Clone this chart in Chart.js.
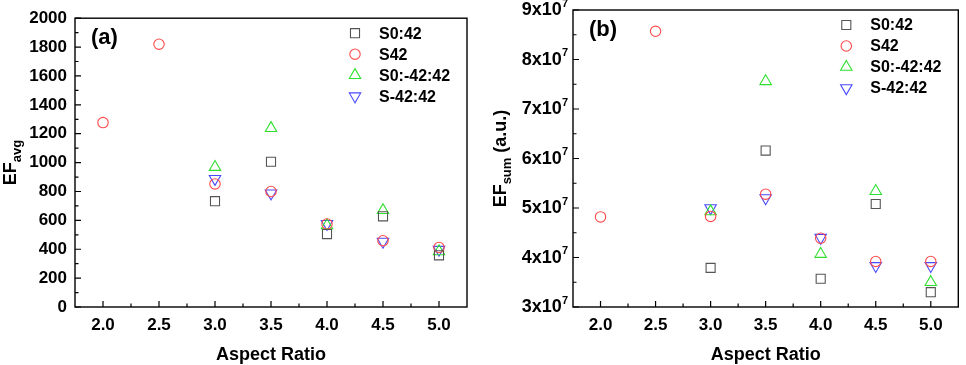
<!DOCTYPE html>
<html>
<head>
<meta charset="utf-8">
<script src="https://cdn.jsdelivr.net/npm/chart.js@4.4.1/dist/chart.umd.min.js"></script>
<style>
  body { margin: 0; background: #fff; }
  .panel { position: absolute; top: 0; width: 483px; height: 365px; }
</style>
</head>
<body>
<div class="panel" style="left:0"><canvas id="chartA" width="483" height="365"></canvas></div>
<div class="panel" style="left:483px"><canvas id="chartB" width="483" height="365"></canvas></div>
<script>
// data
const aspectRatio = [2.0, 2.5, 3.0, 3.5, 4.0, 4.5, 5.0];
const seriesNames = ['S0:42', 'S42', 'S0:-42:42', 'S-42:42'];

const efAvgS0_42     = [null, null, 733, 1006, 505, 628, 358];
const efAvgS42       = [1277, 1820, 852, 800, 575, 459, 412];
const efAvgS0m42_42  = [null, null, 969, 1238, 565, 670, 385];
const efAvgSm42_42   = [null, null, 888, 787, 576, 453, 397];

const efSumS0_42     = [null, null, 3.79e7, 6.16e7, 3.57e7, 5.08e7, 3.30e7];
const efSumS42       = [4.82e7, 8.57e7, 4.83e7, 5.28e7, 4.39e7, 3.92e7, 3.92e7];
const efSumS0m42_42  = [null, null, 4.93e7, 7.56e7, 4.07e7, 5.34e7, 3.50e7];
const efSumSm42_42   = [null, null, 5.00e7, 5.20e7, 4.40e7, 3.83e7, 3.83e7];

const xTicks  = [2.0, 2.5, 3.0, 3.5, 4.0, 4.5, 5.0];
const yTicksA = [0, 200, 400, 600, 800, 1000, 1200, 1400, 1600, 1800, 2000];
const yTicksB = [3e7, 4e7, 5e7, 6e7, 7e7, 8e7, 9e7];

const FONT = '"Liberation Sans", Arial, sans-serif';

const styles = [
    { color: '#555555', pointStyle: 'rect', radius: 6.4, rotation: 0 },
    { color: '#ff4a4a', pointStyle: 'circle', radius: 5.2, rotation: 0 },
    { color: '#2fe02f', pointStyle: 'triangle', radius: 6.6, rotation: 0 },
    { color: '#4a4aff', pointStyle: 'triangle', radius: 6.6, rotation: 180 }
];

const toPoints = (ys) => aspectRatio
    .map((x, i) => ({ x: x, y: ys[i] }))
    .filter(p => p.y !== null);

const makeDatasets = (seriesList) => seriesList.map((ys, i) => ({
    label: seriesNames[i],
    data: toPoints(ys),
    showLine: false,
    borderColor: styles[i].color,
    backgroundColor: 'rgba(0,0,0,0)',
    borderWidth: 1.1,
    pointStyle: styles[i].pointStyle,
    pointRadius: styles[i].radius,
    pointRotation: styles[i].rotation,
    pointHoverRadius: styles[i].radius
}));

// box, inward ticks, legend, panel letter, axis titles
const framePlugin = {
    id: 'frame',
    afterDraw(chart, args, opts) {
        const { ctx, chartArea: a, scales: { x, y } } = chart;
        ctx.save();
        ctx.strokeStyle = '#000';
        ctx.lineWidth = 1.4;
        ctx.strokeRect(a.left, a.top, a.right - a.left, a.bottom - a.top);

        ctx.lineWidth = 1.2;
        ctx.beginPath();
        xTicks.forEach((v, i) => {
            const px = x.getPixelForValue(v);
            ctx.moveTo(px, a.bottom); ctx.lineTo(px, a.bottom - 6);
            const mx = x.getPixelForValue(v + 0.25);
            if (mx < a.right - 2) { ctx.moveTo(mx, a.bottom); ctx.lineTo(mx, a.bottom - 3.5); }
        });
        const yt = opts.yTicks;
        yt.forEach((v, i) => {
            const py = y.getPixelForValue(v);
            ctx.moveTo(a.left, py); ctx.lineTo(a.left + 6, py);
            if (i < yt.length - 1) {
                const my = y.getPixelForValue((v + yt[i + 1]) / 2);
                ctx.moveTo(a.left, my); ctx.lineTo(a.left + 3.5, my);
            }
        });
        ctx.stroke();

        ctx.fillStyle = '#000';
        // superscript tick labels for the sum panel
        if (opts.sciLabels) {
            ctx.textBaseline = 'middle';
            yt.forEach(v => {
                const py = y.getPixelForValue(v);
                const exp = Math.floor(Math.log10(v));
                const mant = Math.round(v / Math.pow(10, exp));
                ctx.font = 'bold 11px ' + FONT;
                const ew = ctx.measureText(String(exp)).width;
                const right = a.left - 5;
                ctx.textAlign = 'right';
                ctx.fillText(String(exp), right, py - 6.5);
                ctx.font = 'bold 18px ' + FONT;
                ctx.fillText(mant + 'x10', right - ew, py + 0.5);
            });
        }

        // panel letter
        ctx.textAlign = 'left';
        ctx.textBaseline = 'middle';
        ctx.font = 'bold 22px ' + FONT;
        ctx.fillText(opts.panel, a.left + 16, a.top + 20);

        // legend
        chart.data.datasets.forEach((ds, i) => {
            const ly = a.top + 15 + i * 21;
            const lx = a.right - 112;
            ctx.strokeStyle = ds.borderColor;
            ctx.fillStyle = 'rgba(0,0,0,0)';
            ctx.lineWidth = 1.1;
            Chart.helpers.drawPoint(ctx, {
                pointStyle: ds.pointStyle,
                radius: ds.pointRadius,
                rotation: ds.pointRotation,
                borderWidth: 1.1
            }, lx, ly);
            ctx.fillStyle = '#000';
            ctx.font = 'bold 16px ' + FONT;
            ctx.fillText(ds.label, a.right - 88, ly + 1);
        });

        // x title
        ctx.textAlign = 'center';
        ctx.font = 'bold 18px ' + FONT;
        ctx.fillText('Aspect Ratio', (a.left + a.right) / 2, 355);

        // y title with subscript
        const t = opts.yTitle;
        ctx.save();
        ctx.translate(t.x, (a.top + a.bottom) / 2);
        ctx.rotate(-Math.PI / 2);
        ctx.textAlign = 'left';
        ctx.textBaseline = 'alphabetic';
        ctx.font = 'bold 18px ' + FONT;
        const w1 = ctx.measureText(t.main).width;
        const w3 = ctx.measureText(t.tail).width;
        ctx.font = 'bold 13px ' + FONT;
        const w2 = ctx.measureText(t.sub).width;
        const start = -(w1 + w2 + w3) / 2;
        ctx.font = 'bold 18px ' + FONT;
        ctx.fillText(t.main, start, 0);
        ctx.fillText(t.tail, start + w1 + w2, 0);
        ctx.font = 'bold 13px ' + FONT;
        ctx.fillText(t.sub, start + w1, 5);
        ctx.restore();

        ctx.restore();
    }
};

const makeChart = (id, datasets, cfg) => new Chart(document.getElementById(id), {
    type: 'scatter',
    data: { datasets: datasets },
    options: {
        responsive: false,
        animation: false,
        events: [],
        layout: { padding: { top: 10, right: cfg.padRight, bottom: 0, left: 0 } },
        plugins: {
            legend: { display: false },
            tooltip: { enabled: false },
            frame: { panel: cfg.panel, yTicks: cfg.yTicks, sciLabels: cfg.sci, yTitle: cfg.yTitle }
        },
        scales: {
            x: {
                type: 'linear',
                min: 1.75,
                max: 5.25,
                afterBuildTicks: s => { s.ticks = xTicks.map(v => ({ value: v })); },
                afterFit: s => { s.height = 58; },
                grid: { display: false, drawTicks: false },
                border: { display: false },
                ticks: {
                    color: '#000',
                    padding: 8,
                    maxRotation: 0,
                    font: { family: FONT, size: 17, weight: 'bold' },
                    callback: v => v.toFixed(1)
                }
            },
            y: {
                type: 'linear',
                min: cfg.yMin,
                max: cfg.yMax,
                afterBuildTicks: s => { s.ticks = cfg.yTicks.map(v => ({ value: v })); },
                afterFit: s => { s.width = cfg.yWidth; },
                grid: { display: false, drawTicks: false },
                border: { display: false },
                ticks: {
                    display: !cfg.sci,
                    color: '#000',
                    padding: 8,
                    font: { family: FONT, size: 17, weight: 'bold' },
                    callback: v => String(v)
                }
            }
        }
    },
    plugins: [framePlugin]
});

makeChart('chartA', makeDatasets([efAvgS0_42, efAvgS42, efAvgS0m42_42, efAvgSm42_42]), {
    panel: '(a)', yTicks: yTicksA, yMin: 0, yMax: 2000, sci: false,
    yWidth: 75, padRight: 16,
    yTitle: { main: 'EF', sub: 'avg', tail: '', x: 16 }
});

makeChart('chartB', makeDatasets([efSumS0_42, efSumS42, efSumS0m42_42, efSumSm42_42]), {
    panel: '(b)', yTicks: yTicksB, yMin: 3e7, yMax: 9e7, sci: true,
    yWidth: 90, padRight: 3,
    yTitle: { main: 'EF', sub: 'sum', tail: ' (a.u.)', x: 23 }
});
</script>
</body>
</html>
